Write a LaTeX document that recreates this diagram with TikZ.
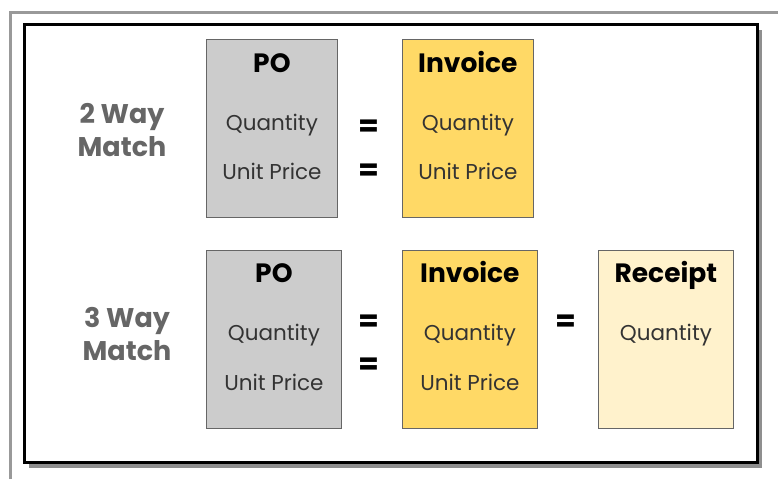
\documentclass[tikz,border=0pt]{standalone}
\usepackage{fontspec}
\setmainfont{Poppins}
\usetikzlibrary{positioning,shadows}
\definecolor{poGray}{HTML}{CCCCCC}
\definecolor{invGold}{HTML}{FFD966}
\definecolor{rcptCream}{HTML}{FFF2CC}
\definecolor{lblGray}{HTML}{666666}
\definecolor{edgeGray}{HTML}{666666}
\tikzset{
  docbox/.style={draw=edgeGray, line width=0.8pt, anchor=north west, minimum width=#1, minimum height=178pt, inner sep=0pt},
  doctitle/.style={font=\fontsize{26.5}{26.5}\selectfont\bfseries, text=black, anchor=base, inner sep=0pt},
  field/.style={font=\fontsize{21.5}{21.5}\selectfont, text=black!80, anchor=base, inner sep=0pt},
  matchlbl/.style={font=\fontsize{27}{33}\selectfont\bfseries, text=lblGray, align=center},
  eqsign/.style={font=\fontsize{30}{30}\selectfont\bfseries, text=black},
}
\begin{document}
\begin{tikzpicture}[x=1pt,y=-1pt]
  \useasboundingbox (0,0) rectangle (778,479);
  % outer frame
  \fill[white] (0,0) rectangle (778,479);
  \draw[line width=3pt, black!40] (10,479) -- (10,12) -- (778,12);
  \draw[line width=3pt, drop shadow={shadow xshift=5pt, shadow yshift=-6pt, fill=black!55, opacity=0.8}, fill=white]
    (24,24) rectangle (757,462);

  % 2 way match
  \node[matchlbl] (lbl2) at (122,130) {2 Way\\Match};
  \node[docbox=131pt, fill=poGray] (po1) at (206,39) {};
  \node[docbox=131pt, fill=invGold] (inv1) at (402,39) {};
  \node[doctitle] (po1t) at ([yshift=-33]po1.north) {PO};
  \node[field] (po1q) at ([yshift=-91]po1.north) {Quantity};
  \node[field] (po1u) at ([yshift=-140]po1.north) {Unit Price};
  \node[doctitle] (inv1t) at ([yshift=-33]inv1.north) {Invoice};
  \node[field] (inv1q) at ([yshift=-91]inv1.north) {Quantity};
  \node[field] (inv1u) at ([yshift=-140]inv1.north) {Unit Price};
  \node[eqsign] (eq1a) at (369,128) {=};
  \node[eqsign] (eq1b) at (369,172) {=};

  % 3 way match
  \node[matchlbl] (lbl3) at (127,334) {3 Way\\Match};
  \node[docbox=135pt, fill=poGray] (po2) at (206,250) {};
  \node[docbox=135pt, fill=invGold] (inv2) at (402,250) {};
  \node[docbox=135pt, fill=rcptCream] (rcpt) at (598,250) {};
  \node[doctitle] (po2t) at ([yshift=-32]po2.north) {PO};
  \node[field] (po2q) at ([yshift=-90]po2.north) {Quantity};
  \node[field] (po2u) at ([yshift=-140]po2.north) {Unit Price};
  \node[doctitle] (inv2t) at ([yshift=-32]inv2.north) {Invoice};
  \node[field] (inv2q) at ([yshift=-90]inv2.north) {Quantity};
  \node[field] (inv2u) at ([yshift=-140]inv2.north) {Unit Price};
  \node[doctitle] (rcptt) at ([yshift=-32]rcpt.north) {Receipt};
  \node[field] (rcptq) at ([yshift=-90]rcpt.north) {Quantity};
  \node[eqsign] (eq2a) at (369,323) {=};
  \node[eqsign] (eq2b) at (369,366) {=};
  \node[eqsign] (eq2c) at (566,323) {=};
\end{tikzpicture}
\end{document}
